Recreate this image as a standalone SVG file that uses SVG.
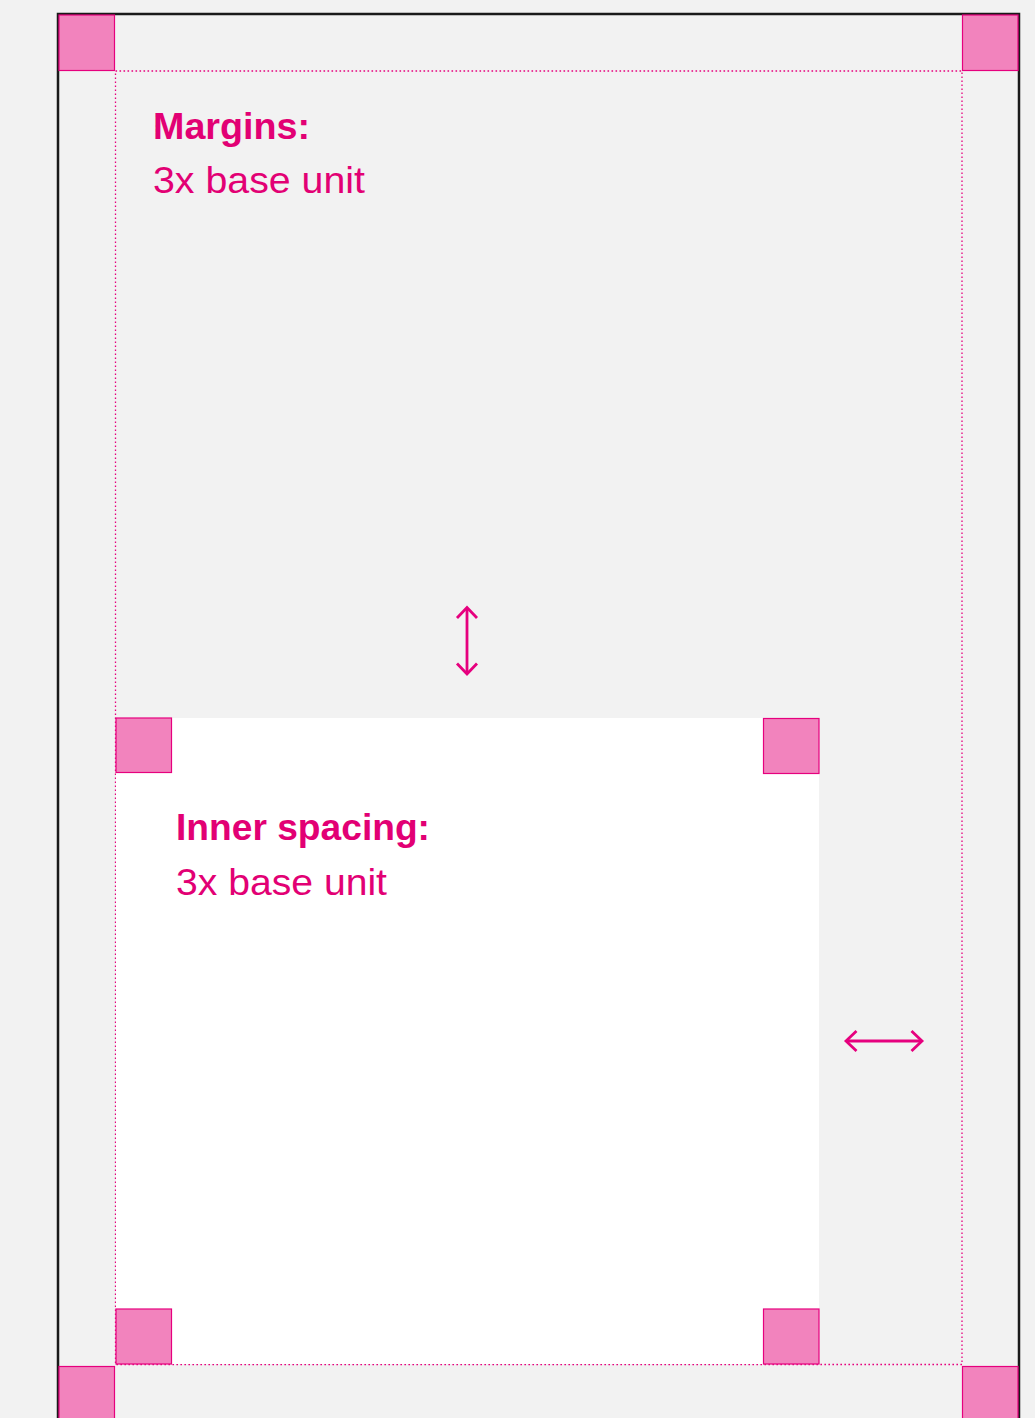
<svg xmlns="http://www.w3.org/2000/svg" width="1035" height="1418" viewBox="0 0 1035 1418">
  <style>
    .sq { fill: #f283bd; stroke: #e6007e; stroke-width: 1.2; }
    .dot { fill: none; stroke: #e6007e; stroke-width: 1.3; stroke-dasharray: 1.6 2.4; }
    .arr { fill: none; stroke: #e6007e; stroke-width: 2.8; stroke-linecap: butt; stroke-linejoin: miter; }
    .title { font-family: "Liberation Sans", Arial, sans-serif; font-weight: bold; font-size: 36px; fill: #e20074; }
    .body { font-family: "Liberation Sans", Arial, sans-serif; font-size: 37px; fill: #e20074; }
  </style>
  <rect x="0" y="0" width="1035" height="1418" fill="#f2f2f2"/>
  <g id="frame">
    <path d="M58,1420 V14 H1019 V1420" fill="none" stroke="#1a1a1a" stroke-width="2.5"/>
  </g>
  <g id="margin-guide">
    <rect class="dot" x="115.5" y="71" width="846.5" height="1293.5"/>
  </g>
  <g id="card">
    <rect x="116" y="718" width="703" height="646" fill="#ffffff"/>
  </g>
  <g id="outer-corners">
    <rect class="sq" x="59" y="15" width="55.5" height="55.5"/>
    <rect class="sq" x="962.5" y="15" width="55.5" height="55.5"/>
    <rect class="sq" x="59" y="1366.5" width="55.5" height="60"/>
    <rect class="sq" x="962.5" y="1366.5" width="55.5" height="60"/>
  </g>
  <g id="inner-corners">
    <rect class="sq" x="116" y="718" width="55.5" height="54.5"/>
    <rect class="sq" x="763.5" y="718.5" width="55.5" height="55"/>
    <rect class="sq" x="116" y="1309" width="55.5" height="55"/>
    <rect class="sq" x="763.5" y="1309" width="55.5" height="55"/>
  </g>
  <g id="margins-label">
    <text class="title" x="153" y="138.5" textLength="157" lengthAdjust="spacingAndGlyphs">Margins:</text>
    <text class="body" x="153" y="192.5" textLength="212" lengthAdjust="spacingAndGlyphs">3x base unit</text>
  </g>
  <g id="inner-label">
    <text class="title" x="176" y="840" textLength="254" lengthAdjust="spacingAndGlyphs">Inner spacing:</text>
    <text class="body" x="176" y="894.5" textLength="211" lengthAdjust="spacingAndGlyphs">3x base unit</text>
  </g>
  <g id="connectors">
    <g id="vertical-arrow">
      <line class="arr" x1="467" y1="608" x2="467" y2="673"/>
      <polyline class="arr" points="457,618 467,607.5 477,618"/>
      <polyline class="arr" points="457,663.5 467,674 477,663.5"/>
    </g>
    <g id="horizontal-arrow">
      <line class="arr" x1="846" y1="1041" x2="922" y2="1041"/>
      <polyline class="arr" points="856.5,1031 846,1041 856.5,1051"/>
      <polyline class="arr" points="911.5,1031 922,1041 911.5,1051"/>
    </g>
  </g>
</svg>
